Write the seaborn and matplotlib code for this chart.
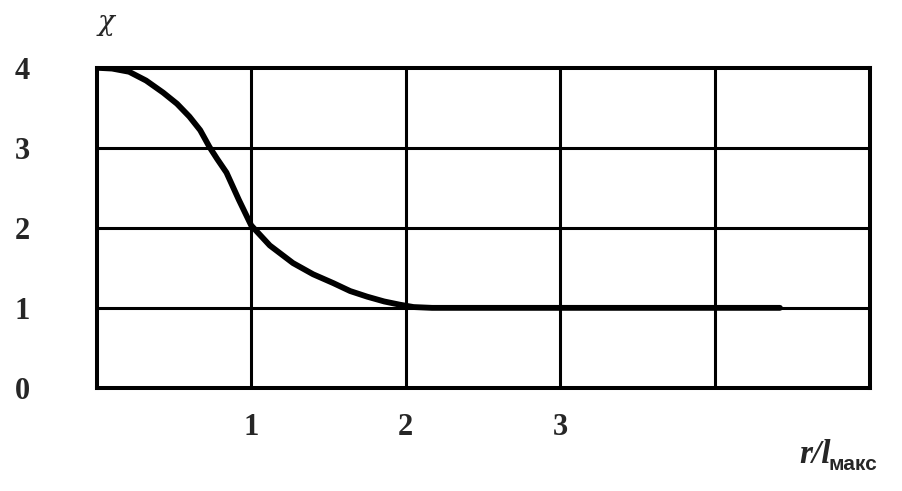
import pandas as pd
import seaborn as sns
import matplotlib
matplotlib.use('Agg')
import matplotlib.pyplot as plt

# кривая chi(r / l_max)
r = [0.0, 0.10, 0.21, 0.32, 0.43, 0.52, 0.60, 0.67, 0.73, 0.78, 0.84, 0.92,
     1.00, 1.12, 1.27, 1.40, 1.53, 1.64, 1.75, 1.86, 1.96, 2.05, 2.17, 3.0, 4.42]
chi = [4.0, 3.99, 3.95, 3.84, 3.69, 3.55, 3.39, 3.22, 3.01, 2.86, 2.69, 2.35,
       2.03, 1.78, 1.56, 1.42, 1.31, 1.21, 1.14, 1.08, 1.04, 1.01, 1.0, 1.0, 1.0]
x_ticks = [1, 2, 3]
y_ticks = [0, 1, 2, 3, 4]

df = pd.DataFrame({'r': r, 'chi': chi})

sns.set_theme(style='white')
plt.rcParams['font.family'] = ['Liberation Serif', 'DejaVu Serif']

fig = plt.figure(figsize=(9.03, 4.91), dpi=100)
ax = fig.add_axes([0.107, 0.21, 0.856, 0.652])

# сетка
for xv in range(1, 5):
    ax.axvline(xv, color='black', lw=2.2, zorder=1)
for yv in range(1, 4):
    ax.axhline(yv, color='black', lw=2.2, zorder=1)

sns.lineplot(data=df, x='r', y='chi', color='black', lw=4.2, ax=ax, zorder=3)

ax.set_xlim(0, 5)
ax.set_ylim(0, 4)
ax.set_xticks(x_ticks)
ax.set_yticks(y_ticks)
ax.set_xticklabels([str(t) for t in x_ticks], fontsize=22, fontweight='bold')
ax.set_yticklabels([str(t) for t in y_ticks], fontsize=22, fontweight='bold')
ax.tick_params(axis='x', length=0, pad=18)
ax.tick_params(axis='y', length=0, pad=48)
for s in ax.spines.values():
    s.set_color('black')
    s.set_linewidth(2.9)
ax.set_xlabel('')
ax.set_ylabel('')

fig.text(0.108, 0.955, 'χ', fontsize=20, style='italic', family='DejaVu Serif',
         ha='left', va='center')
fig.text(0.885, 0.058, 'r/l', fontsize=24, fontweight='bold', style='italic',
         ha='left', va='baseline')
fig.text(0.917, 0.043, 'макс', fontsize=15, fontweight='bold',
         family=['Liberation Sans Narrow', 'Liberation Sans', 'DejaVu Sans'],
         ha='left', va='baseline')

fig.savefig('out.png', dpi=100)
